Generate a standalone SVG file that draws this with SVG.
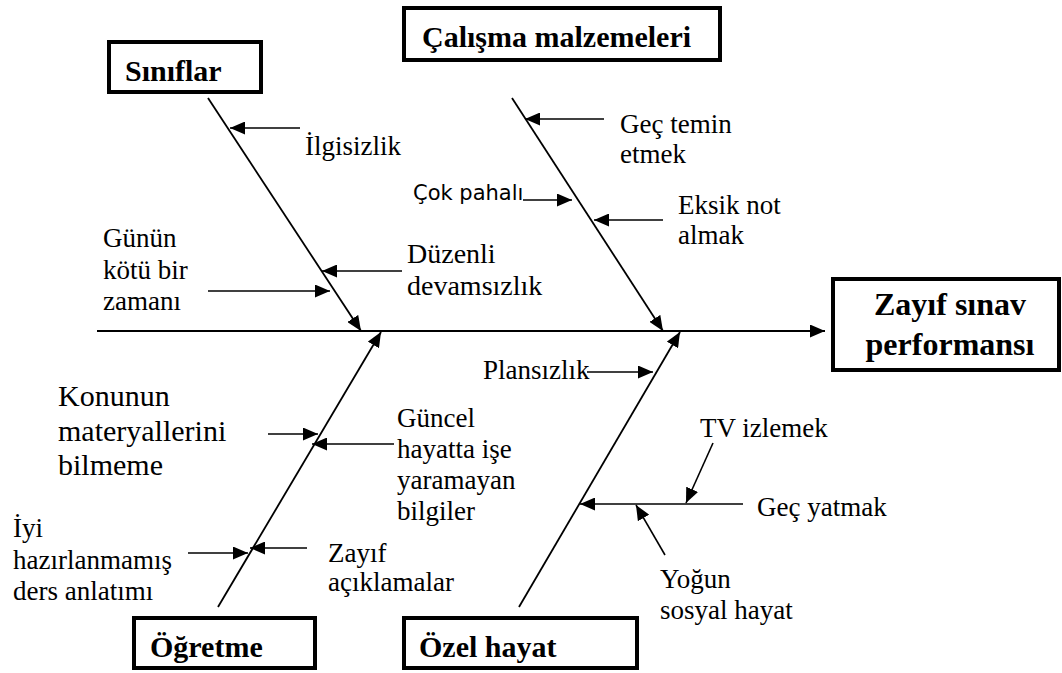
<svg xmlns="http://www.w3.org/2000/svg" width="1062" height="673" viewBox="0 0 1062 673">
  <style>
    .box { fill: #fff; stroke: #000; stroke-width: 4; }
    .head { font-family: "Liberation Serif", "Times New Roman", serif; font-weight: bold; font-size: 30px; fill: #000; }
    .effect { font-family: "Liberation Serif", "Times New Roman", serif; font-weight: bold; font-size: 32px; fill: #000; text-anchor: middle; }
    .lbl { font-family: "Liberation Serif", "Times New Roman", serif; font-size: 27px; fill: #000; }
    .big { font-size: 30px; }
    .mid { font-size: 28px; }
    .sans { font-family: "DejaVu Sans", Verdana, sans-serif; font-size: 21px; fill: #000; }
    .bone { stroke: #000; stroke-width: 1.8; fill: none; }
    .sub { stroke: #000; stroke-width: 1.6; fill: none; }
  </style>
  <defs>
    <marker id="ah" viewBox="0 0 15 13" refX="15" refY="6.5" markerWidth="15" markerHeight="13" markerUnits="userSpaceOnUse" orient="auto">
      <path d="M0,0 L15,6.5 L0,13 z" fill="#000"/>
    </marker>
  </defs>
  <rect width="1062" height="673" fill="#fff"/>

  <!-- connectors: spine, category bones and cause arrows -->
  <g id="connectors">
    <line class="bone" x1="97" y1="331" x2="825" y2="331" marker-end="url(#ah)"/>
    <line class="bone" x1="208" y1="98" x2="361" y2="331" marker-end="url(#ah)"/>
    <line class="bone" x1="512" y1="98" x2="663" y2="331" marker-end="url(#ah)"/>
    <line class="bone" x1="218" y1="607" x2="381" y2="332" marker-end="url(#ah)"/>
    <line class="bone" x1="519" y1="607" x2="680" y2="332" marker-end="url(#ah)"/>

    <line class="sub" x1="300" y1="128" x2="230" y2="128" marker-end="url(#ah)"/>
    <line class="sub" x1="402" y1="271" x2="322" y2="271" marker-end="url(#ah)"/>
    <line class="sub" x1="208" y1="291" x2="330" y2="291" marker-end="url(#ah)"/>

    <line class="sub" x1="604" y1="119" x2="525" y2="119" marker-end="url(#ah)"/>
    <line class="sub" x1="523" y1="200" x2="572" y2="200" marker-end="url(#ah)"/>
    <line class="sub" x1="663" y1="220" x2="594" y2="220" marker-end="url(#ah)"/>

    <line class="sub" x1="268" y1="434" x2="318" y2="434" marker-end="url(#ah)"/>
    <line class="sub" x1="394" y1="444" x2="312" y2="444" marker-end="url(#ah)"/>
    <line class="sub" x1="188" y1="553" x2="248" y2="553" marker-end="url(#ah)"/>
    <line class="sub" x1="307" y1="548" x2="250" y2="548" marker-end="url(#ah)"/>

    <line class="sub" x1="587" y1="372" x2="653" y2="372" marker-end="url(#ah)"/>
    <line class="sub" x1="743" y1="504" x2="580" y2="504" marker-end="url(#ah)"/>
    <line class="sub" x1="713" y1="443" x2="686" y2="503" marker-end="url(#ah)"/>
    <line class="sub" x1="665" y1="555" x2="636" y2="505" marker-end="url(#ah)"/>
  </g>

  <!-- category and effect boxes -->
  <g id="siniflar">
    <rect class="box" x="109" y="42" width="152" height="50"/>
    <text class="head" x="125" y="81">Sınıflar</text>
  </g>
  <g id="calisma-malzemeleri">
    <rect class="box" x="404" y="8" width="316" height="52"/>
    <text class="head" x="422" y="47">Çalışma malzemeleri</text>
  </g>
  <g id="ogretme">
    <rect class="box" x="134" y="618" width="181" height="50"/>
    <text class="head" x="150" y="657">Öğretme</text>
  </g>
  <g id="ozel-hayat">
    <rect class="box" x="404" y="618" width="233" height="50"/>
    <text class="head" x="419" y="657">Özel hayat</text>
  </g>
  <g id="zayif-sinav">
    <rect class="box" x="833" y="279" width="226" height="91"/>
    <text class="effect" x="950" y="315">Zayıf sınav</text>
    <text class="effect" x="950" y="355">performansı</text>
  </g>

  <!-- cause labels -->
  <g id="ilgisizlik"><text class="lbl" x="305" y="155">İlgisizlik</text></g>
  <g id="duzenli-devamsizlik">
    <text class="lbl mid" x="407" y="263">Düzenli</text>
    <text class="lbl mid" x="407" y="295">devamsızlık</text>
  </g>
  <g id="gunun-kotu">
    <text class="lbl" x="103" y="247">Günün</text>
    <text class="lbl" x="103" y="279">kötü bir</text>
    <text class="lbl" x="103" y="310">zamanı</text>
  </g>
  <g id="gec-temin">
    <text class="lbl" x="620" y="133">Geç temin</text>
    <text class="lbl" x="620" y="163">etmek</text>
  </g>
  <g id="cok-pahali"><text class="sans" x="413" y="200">Çok pahalı</text></g>
  <g id="eksik-not">
    <text class="lbl" x="678" y="214">Eksik not</text>
    <text class="lbl" x="678" y="244">almak</text>
  </g>
  <g id="konunun">
    <text class="lbl big" x="58" y="406">Konunun</text>
    <text class="lbl big" x="58" y="441">materyallerini</text>
    <text class="lbl big" x="58" y="475">bilmeme</text>
  </g>
  <g id="guncel">
    <text class="lbl" x="397" y="427">Güncel</text>
    <text class="lbl" x="397" y="458">hayatta işe</text>
    <text class="lbl" x="397" y="489">yaramayan</text>
    <text class="lbl" x="397" y="520">bilgiler</text>
  </g>
  <g id="iyi-hazirlanmamis">
    <text class="lbl" x="13" y="537">İyi</text>
    <text class="lbl" x="13" y="569">hazırlanmamış</text>
    <text class="lbl" x="13" y="600">ders anlatımı</text>
  </g>
  <g id="zayif-aciklamalar">
    <text class="lbl" x="328" y="562">Zayıf</text>
    <text class="lbl" x="328" y="591">açıklamalar</text>
  </g>
  <g id="plansizlik"><text class="lbl" x="483" y="379">Plansızlık</text></g>
  <g id="tv-izlemek"><text class="lbl" x="700" y="437">TV izlemek</text></g>
  <g id="gec-yatmak"><text class="lbl" x="757" y="516">Geç yatmak</text></g>
  <g id="yogun-sosyal">
    <text class="lbl" x="660" y="588">Yoğun</text>
    <text class="lbl" x="660" y="619">sosyal hayat</text>
  </g>
</svg>
